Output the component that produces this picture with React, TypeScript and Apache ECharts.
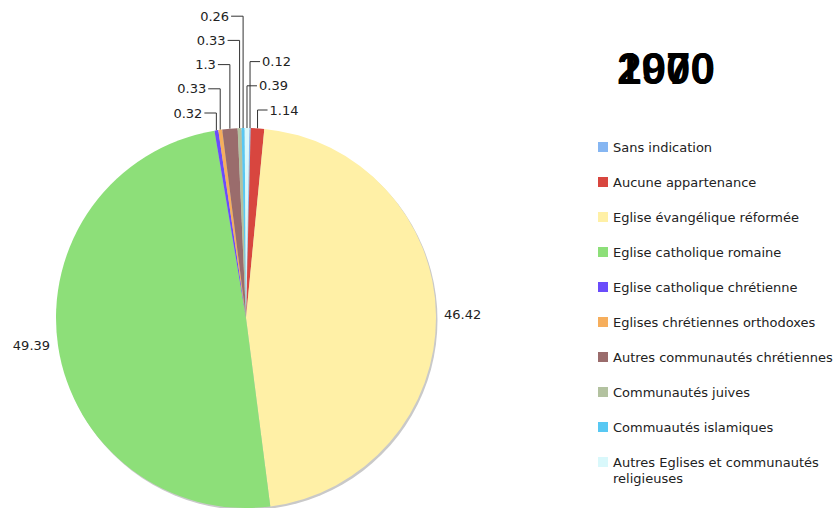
import React, { useEffect, useRef } from "react";
import * as echarts from "echarts";

const categories = [
  "Sans indication",
  "Aucune appartenance",
  "Eglise évangélique réformée",
  "Eglise catholique romaine",
  "Eglise catholique chrétienne",
  "Eglises chrétiennes orthodoxes",
  "Autres communautés chrétiennes",
  "Communautés juives",
  "Commuautés islamiques",
  "Autres Eglises et communautés religieuses",
];
const values = [0.12, 1.14, 46.42, 49.39, 0.32, 0.33, 1.3, 0.33, 0.26, 0.39];
const colors = [
  "#86b6f2",
  "#d8463f",
  "#fff0a6",
  "#8ddf79",
  "#6a4cfb",
  "#f6ae5c",
  "#9a6c6c",
  "#b3c2a0",
  "#58c8f3",
  "#d9f8fb",
];
const years = ["1970", "2000"];

// layout constants
const CX = 246;
const CY = 318;
const R = 190;
const START_OFFSET = 1; // degrees clockwise from 12 o'clock
const leftStack = [4, 5, 6, 7, 8]; // bottom to top
const rightStack = [1, 9, 0]; // bottom to top
const LEFT_BASE = 113;
const RIGHT_BASE = 110;
const STEP = 24.2;
const WRAP_AT = 30;

const total = values.reduce((a, b) => a + b, 0);

function anchorOf(i: number) {
  let cum = 0;
  for (let k = 0; k < i; k++) cum += values[k];
  const mid = START_OFFSET + ((cum + values[i] / 2) / total) * 360;
  const rad = (mid * Math.PI) / 180;
  return { x: CX + R * Math.sin(rad), y: CY - R * Math.cos(rad) };
}

function needsWrap(name: string) {
  return name.length > WRAP_AT + 2;
}

function legendText(name: string) {
  if (!needsWrap(name)) return name;
  const cut = name.lastIndexOf(" ", WRAP_AT);
  return "{r|" + name.slice(0, cut) + "}\n{r|" + name.slice(cut + 1) + "}";
}

const legendFont = {
  fontFamily: "DejaVu Sans",
  fontSize: 13,
  color: "#222",
  lineHeight: 16,
};

export default function App() {
  const ref = useRef<HTMLDivElement>(null);
  useEffect(() => {
    document.body.style.margin = "0";
    const chart = echarts.init(ref.current!, undefined, { renderer: "svg" });
    const option: any = {
      animation: false,
      backgroundColor: "#ffffff",
      graphic: [
        {
          type: "circle",
          z: -1,
          silent: true,
          shape: { cx: CX + 1.5, cy: CY + 2, r: R },
          style: { fill: "#c9c9c9" },
        },
        ...years.map((y) => ({
          type: "text",
          x: 666,
          y: 68,
          style: {
            text: y,
            align: "center",
            verticalAlign: "middle",
            fontSize: 44,
            fontWeight: "bold",
            fontFamily: "Liberation Sans",
            fill: "#000",
          },
        })),
      ],
      legend: {
        orient: "vertical",
        left: 593,
        top: 134,
        height: 370,
        itemWidth: 10,
        itemHeight: 10,
        itemGap: 19,
        icon: "rect",
        selectedMode: false,
        formatter: (name: string) => legendText(name),
        data: categories.map((name) => ({
          name,
          textStyle: needsWrap(name) ? { height: 16 } : {},
        })),
        textStyle: {
          ...legendFont,
          rich: { r: { ...legendFont } },
        },
      },
      series: [
        {
          type: "pie",
          center: [CX, CY],
          radius: R,
          startAngle: 90 - START_OFFSET,
          clockwise: true,
          avoidLabelOverlap: false,
          emphasis: { disabled: true },
          itemStyle: { borderWidth: 0 },
          label: {
            show: true,
            position: "outside",
            fontFamily: "DejaVu Sans",
            fontSize: 13,
            color: "#222",
            formatter: (p: any) => String(p.value),
          },
          labelLine: {
            show: true,
            length: 10,
            length2: 10,
            lineStyle: { color: "#333", width: 1 },
          },
          labelLayout: (p: any) => {
            const i = p.dataIndex;
            const a = anchorOf(i);
            if (values[i] > 10) {
              const side = a.x > CX ? 1 : -1;
              return {
                x: a.x + side * 8,
                y: a.y,
                align: side > 0 ? "left" : "right",
                verticalAlign: "middle",
              };
            }
            const li = leftStack.indexOf(i);
            if (li >= 0) {
              const y = LEFT_BASE - li * STEP;
              const x = a.x - 14;
              return {
                x,
                y,
                align: "right",
                verticalAlign: "middle",
                labelLinePoints: [
                  [a.x, a.y],
                  [a.x, y],
                  [x + 2, y],
                ],
              };
            }
            const ri = rightStack.indexOf(i);
            const y = RIGHT_BASE - ri * STEP;
            const x = a.x + 12;
            return {
              x,
              y,
              align: "left",
              verticalAlign: "middle",
              labelLinePoints: [
                [a.x, a.y],
                [a.x, y],
                [x - 2, y],
              ],
            };
          },
          data: categories.map((name, i) => ({
            name,
            value: values[i],
            itemStyle: { color: colors[i] },
            labelLine: { show: values[i] <= 10 },
          })),
        },
      ],
    };
    chart.setOption(option);
    return () => chart.dispose();
  }, []);
  return <div ref={ref} style={{ width: 838, height: 508 }} />;
}
